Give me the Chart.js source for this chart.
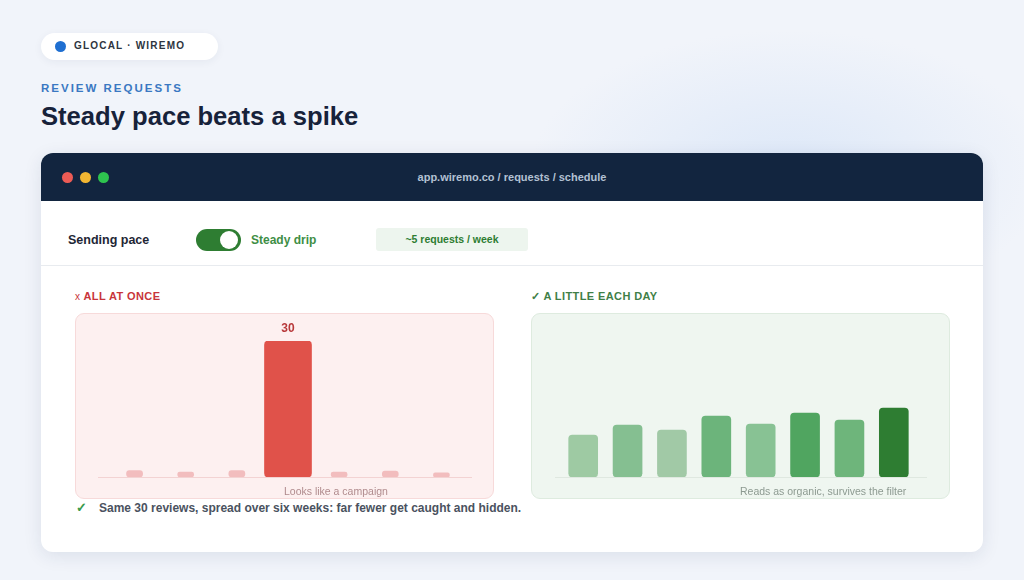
<!DOCTYPE html>
<html>
<head>
<meta charset="utf-8">
<script src="https://cdn.jsdelivr.net/npm/chart.js@4.4.1/dist/chart.umd.min.js"></script>
<style>
  html, body { margin: 0; padding: 0; }
  body {
    width: 1024px; height: 580px; overflow: hidden; position: relative;
    font-family: "Liberation Sans", Arial, sans-serif;
    background: radial-gradient(ellipse 260px 140px at 790px 170px, #dde8f8 0%, rgba(221,232,248,0) 100%), #f1f4fa;
  }
  .abs { position: absolute; }
  .badge { left: 41px; top: 33px; width: 177px; height: 27px; background: #fff; border-radius: 14px;
    box-shadow: 0 2px 8px rgba(30,50,90,0.06); }
  .badge .dot { position: absolute; left: 14px; top: 8px; width: 11px; height: 11px; border-radius: 50%; background: #1f6fd1; }
  .badge .txt { position: absolute; left: 33px; top: 7px; font-size: 10px; font-weight: bold; letter-spacing: 1.2px; color: #2d3440; }
  .kicker { left: 41px; top: 82px; font-size: 11.5px; font-weight: bold; letter-spacing: 2px; color: #3a78c2; }
  .title { left: 41px; top: 102px; font-size: 25.6px; font-weight: bold; color: #17223a; }
  .card { left: 41px; top: 153px; width: 942px; height: 399px; background: #fff; border-radius: 12px;
    box-shadow: 0 4px 18px rgba(30,50,90,0.10); overflow: hidden; }
  .bar { position: absolute; left: 0; top: 0; width: 942px; height: 48px; background: #12253f; }
  .bar .d { position: absolute; top: 19px; width: 11px; height: 11px; border-radius: 50%; }
  .url { position: absolute; left: 0; width: 942px; top: 18px; text-align: center; font-size: 11px; font-weight: bold; color: #b3c1d3; }
  .lbl { font-size: 12.5px; font-weight: bold; color: #1e2635; }
  .toggle { left: 196px; top: 229px; width: 45px; height: 22px; border-radius: 11px; background: #2e7d32; }
  .toggle .k { position: absolute; right: 3px; top: 2px; width: 18px; height: 18px; border-radius: 50%; background: #fff; }
  .pill { left: 376px; top: 228px; width: 152px; height: 23px; background: #edf5ee; border-radius: 3px;
    font-size: 10.5px; font-weight: bold; color: #2e7d32; text-align: center; line-height: 23px; }
  .divider { left: 41px; top: 265px; width: 942px; height: 1px; background: #e8ebef; }
  .head { font-size: 11px; font-weight: bold; letter-spacing: 0.4px; }
  .panel { top: 313px; width: 417px; height: 184px; border-radius: 9px; }
  .cap { font-size: 10.5px; }
  canvas { position: absolute; }
</style>
</head>
<body>
<div class="abs badge"><div class="dot"></div><div class="txt">GLOCAL · WIREMO</div></div>
<div class="abs kicker">REVIEW REQUESTS</div>
<div class="abs title">Steady pace beats a spike</div>

<div class="abs card">
  <div class="bar">
    <div class="d" style="left:21px;background:#ec5b55"></div>
    <div class="d" style="left:39px;background:#f2b632"></div>
    <div class="d" style="left:57px;background:#2ec44f"></div>
    <div class="url">app.wiremo.co / requests / schedule</div>
  </div>
</div>
<div class="abs lbl" style="left:68px;top:233px;">Sending pace</div>
<div class="abs toggle"><div class="k"></div></div>
<div class="abs lbl" style="left:251px;top:233px;font-size:12px;color:#3e8e45;">Steady drip</div>
<div class="abs pill">~5 requests / week</div>
<div class="abs divider"></div>

<div class="abs head" style="left:75px;top:290px;color:#c8353a;"><span style="font-weight:normal;font-size:10px;">x</span> ALL AT ONCE</div>
<div class="abs head" style="left:531px;top:290px;color:#3f7f47;">✓ A LITTLE EACH DAY</div>

<div class="abs panel" style="left:75px;background:#fdf0f0;border:1px solid #f7dada;"></div>
<div class="abs panel" style="left:531px;background:#eff6f0;border:1px solid #deebdf;"></div>

<canvas id="spike" style="left:75px;top:313px;" width="418" height="184"></canvas>
<canvas id="drip" style="left:531px;top:313px;" width="418" height="184"></canvas>

<div class="abs cap" style="left:284px;top:485px;color:#b08b8d;">Looks like a campaign</div>
<div class="abs cap" style="left:740px;top:485px;color:#8d9a91;">Reads as organic, survives the filter</div>

<div class="abs" style="left:76px;top:500px;font-size:13px;font-weight:bold;color:#3a9a4a;">✓</div>
<div class="abs" style="left:99px;top:501px;font-size:12px;font-weight:bold;color:#4a5260;">Same 30 reviews, spread over six weeks: far fewer get caught and hidden.</div>

<script>
// all at once: one day gets everything
var spikeDays = ["d1","d2","d3","d4","d5","d6","d7"];
var spikeSmall = [1.4, 1.1, 1.4, null, 1.1, 1.3, 0.9];
var spikeBig = [null, null, null, 30, null, null, null];

// a little each day
var dripDays = ["d1","d2","d3","d4","d5","d6","d7","d8"];
var dripValues = [4.2, 5.2, 4.7, 6.1, 5.3, 6.4, 5.7, 6.9];
var dripColors = ["#9ecaa3","#85bf91","#a1c9a6","#6cb47b","#88c294","#50a560","#6eb57b","#2e7d32"];

// baseline + value label
var baseline = {
  id: 'baseline',
  beforeDatasetsDraw: function (chart, args, opts) {
    var c = chart.ctx, a = chart.chartArea;
    c.save();
    c.strokeStyle = opts.color;
    c.lineWidth = 1;
    c.beginPath();
    c.moveTo(a.left - opts.l, a.bottom + 0.5);
    c.lineTo(a.right + opts.r, a.bottom + 0.5);
    c.stroke();
    c.restore();
  }
};
var topLabel = {
  id: 'topLabel',
  afterDatasetsDraw: function (chart) {
    var meta = chart.getDatasetMeta(1);
    var c = chart.ctx;
    meta.data.forEach(function (el, i) {
      var v = spikeBig[i];
      if (v == null) return;
      c.save();
      c.fillStyle = '#b8383a';
      c.font = 'bold 12px "Liberation Sans", Arial, sans-serif';
      c.textAlign = 'center';
      c.textBaseline = 'middle';
      c.fillText(String(v), el.x, el.y - 12);
      c.restore();
    });
  }
};

function hiddenScales(max) {
  return {
    x: { display: false, grid: { display: false } },
    y: { display: false, min: 0, max: max, grid: { display: false } }
  };
}

new Chart(document.getElementById('spike').getContext('2d'), {
  type: 'bar',
  data: {
    labels: spikeDays,
    datasets: [
      { data: spikeSmall, backgroundColor: '#f2bdbe', barThickness: 16, borderRadius: 3, borderSkipped: false, grouped: false },
      { data: spikeBig, backgroundColor: '#e0524a', barThickness: 47, borderRadius: 4, borderSkipped: false, grouped: false }
    ]
  },
  options: {
    responsive: false,
    animation: false,
    layout: { padding: { left: 34, right: 26, top: 28, bottom: 20 } },
    scales: hiddenScales(30),
    plugins: { legend: { display: false }, tooltip: { enabled: false }, baseline: { color: '#f3d3d3', l: 11, r: 5 } }
  },
  plugins: [baseline, topLabel]
});

new Chart(document.getElementById('drip').getContext('2d'), {
  type: 'bar',
  data: {
    labels: dripDays,
    datasets: [
      { data: dripValues, backgroundColor: dripColors, barThickness: 29, borderRadius: 4, borderSkipped: false }
    ]
  },
  options: {
    responsive: false,
    animation: false,
    layout: { padding: { left: 30, right: 33, top: 28, bottom: 20 } },
    scales: hiddenScales(13.6),
    plugins: { legend: { display: false }, tooltip: { enabled: false }, baseline: { color: '#dfe8e0', l: 6, r: 11 } }
  },
  plugins: [baseline]
});
</script>
</body>
</html>
